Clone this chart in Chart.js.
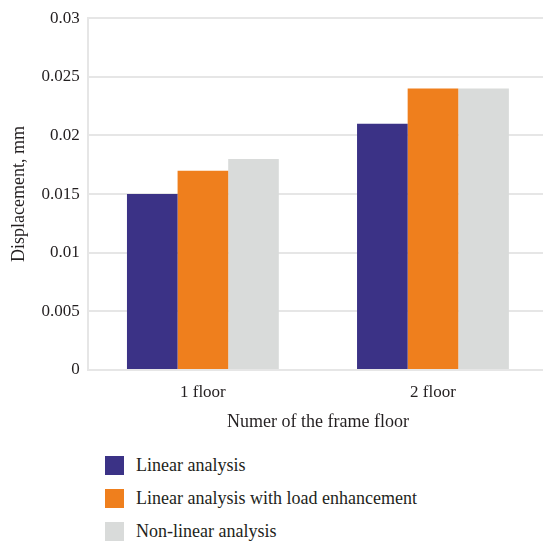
<!DOCTYPE html>
<html>
<head>
<meta charset="utf-8">
<script src="https://cdn.jsdelivr.net/npm/chart.js@4"></script>
<style>
  html, body { margin: 0; padding: 0; background: #fff; overflow: hidden; }
  #wrap { position: absolute; left: 0; top: 0; width: 548px; height: 433px; }
  #legend { position: absolute; left: 105px; top: 456px; font-family: "Liberation Serif", serif; font-size: 18px; color: #231f20; }
  #legend .item { display: flex; align-items: center; height: 19px; margin-bottom: 14px; }
  #legend .box { width: 19px; height: 19px; margin-right: 12px; }
</style>
</head>
<body>
<div id="wrap"><canvas id="container"></canvas></div>
<div id="legend"></div>
<script>
const categories = ['1 floor', '2 floor'];
const seriesNames = ['Linear analysis', 'Linear analysis with load enhancement', 'Non-linear analysis'];
const linearValues = [0.015, 0.021];
const enhancedValues = [0.017, 0.024];
const nonLinearValues = [0.018, 0.024];
const yTicks = [0, 0.005, 0.01, 0.015, 0.02, 0.025, 0.03];
const colors = ['#3b3286', '#ef7f1d', '#d9dbda'];

const font = { family: '"Liberation Serif", serif', size: 17 };
const titleFont = { family: '"Liberation Serif", serif', size: 18 };
const textColor = '#231f20';
const gridColor = '#e6e6e6';

const chart = new Chart(document.querySelector('#container'), {
    type: 'bar',
    data: {
        labels: categories,
        datasets: [linearValues, enhancedValues, nonLinearValues].map((d, i) => ({
            label: seriesNames[i],
            data: d,
            backgroundColor: colors[i],
            borderWidth: 0,
            categoryPercentage: 0.66,
            barPercentage: 1.0
        }))
    },
    options: {
        responsive: true,
        maintainAspectRatio: false,
        animation: false,
        layout: { padding: { top: 7, left: 8, right: 0, bottom: 0 } },
        plugins: {
            legend: { display: false },
            tooltip: { enabled: false }
        },
        scales: {
            x: {
                grid: { display: false },
                border: { display: false },
                ticks: { font: font, color: textColor, padding: 4 },
                title: {
                    display: true,
                    text: 'Numer of the frame floor',
                    font: titleFont,
                    color: textColor,
                    padding: { top: 5, bottom: 0 }
                }
            },
            y: {
                min: 0,
                max: 0.03,
                afterBuildTicks: (axis) => {
                    axis.ticks = yTicks.map(v => ({ value: v }));
                },
                grid: { color: gridColor, lineWidth: 2, drawTicks: false },
                border: { display: true, color: gridColor, width: 2 },
                ticks: {
                    font: font,
                    color: textColor,
                    padding: 8,
                    callback: (v) => String(v)
                },
                title: {
                    display: true,
                    text: 'Displacement, mm',
                    font: titleFont,
                    color: textColor,
                    padding: { top: 0, bottom: 4 }
                }
            }
        }
    }
});

// legend drawn from chart datasets, one per row
const legendEl = document.getElementById('legend');
chart.data.datasets.forEach(ds => {
    const item = document.createElement('div');
    item.className = 'item';
    const box = document.createElement('span');
    box.className = 'box';
    box.style.background = ds.backgroundColor;
    const txt = document.createElement('span');
    txt.textContent = ds.label;
    item.appendChild(box);
    item.appendChild(txt);
    legendEl.appendChild(item);
});
</script>
</body>
</html>
